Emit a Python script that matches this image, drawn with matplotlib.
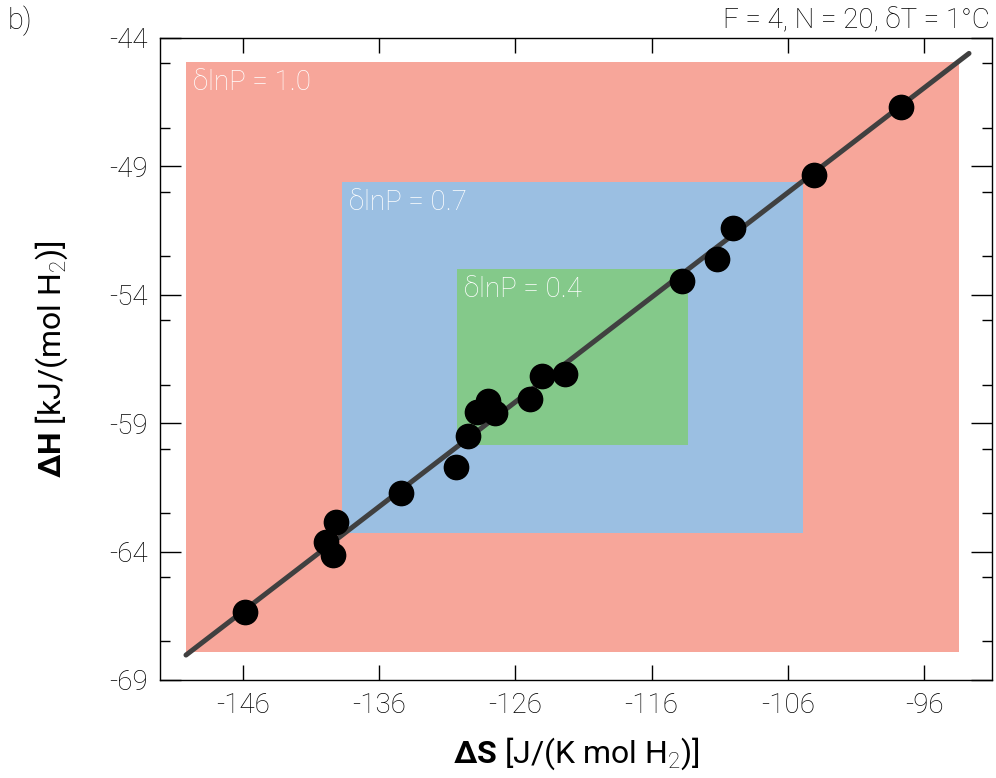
import numpy as np
import matplotlib
matplotlib.use('Agg')
import matplotlib.pyplot as plt
from matplotlib.patches import Rectangle
from matplotlib.ticker import MultipleLocator

plt.rcParams['font.family'] = ['Roboto', 'DejaVu Sans']
plt.rcParams['font.weight'] = 'light'
plt.rcParams['mathtext.fontset'] = 'custom'
plt.rcParams['mathtext.rm'] = 'Roboto:light'
plt.rcParams['mathtext.bf'] = 'Roboto:bold'

# fitted points (dS in J/(K mol H2), dH in kJ/(mol H2))
dS = [-145.83, -139.89, -139.40, -139.15, -134.41, -130.35, -129.47, -128.79,
      -128.00, -127.51, -124.92, -124.04, -122.35, -113.79, -111.20, -110.00,
      -104.08, -97.72]
dH = [-66.37, -63.64, -64.14, -62.84, -61.73, -60.72, -59.52, -58.57,
      -58.13, -58.62, -58.08, -57.17, -57.08, -53.46, -52.60, -51.40,
      -49.36, -46.70]

# compensation line end points
line_S = [-150.16, -92.71]
line_H = [-68.03, -44.61]

# uncertainty boxes
box_labels = ['δlnP = 1.0', 'δlnP = 0.7', 'δlnP = 0.4']
box_S = [(-150.18, -93.43), (-138.71, -104.87), (-130.28, -113.35)]
box_H = [(-67.90, -44.95), (-63.27, -49.61), (-59.85, -53.00)]
box_colors = ['#f7a69a', '#9bbfe2', '#84c98a']

xticks = [-146, -136, -126, -116, -106, -96]
yticks = [-69, -64, -59, -54, -49, -44]

fig = plt.figure(figsize=(9.96, 7.78), dpi=100)
ax = fig.add_axes([0.1606, 0.126, 0.8357, 0.8255])

for lab, (s0, s1), (h0, h1), c in zip(box_labels, box_S, box_H, box_colors):
    ax.add_patch(Rectangle((s0, h0), s1 - s0, h1 - h0, color=c, lw=0, zorder=1))
    ax.annotate(lab, (s0, h1), xytext=(5, -5), textcoords='offset points',
                ha='left', va='top', color='white', fontsize=20, zorder=2)

ax.plot(line_S, line_H, color='#404040', lw=3.6, solid_capstyle='round', zorder=3)
ax.plot(dS, dH, 'o', color='black', ms=17.5, zorder=4)

ax.set_xlim(-152.07, -91.0)
ax.set_ylim(-69, -44)
ax.set_xticks(xticks)
ax.set_yticks(yticks)
ax.set_xticklabels([str(t) for t in xticks])
ax.set_yticklabels([str(t) for t in yticks])
ax.yaxis.set_minor_locator(MultipleLocator(2.5))
ax.tick_params(which='major', direction='in', top=True, right=True,
               length=11, width=1, labelsize=20, pad=9)
ax.tick_params(axis='y', which='major', length=15)
ax.tick_params(axis='y', which='minor', direction='in', right=True, length=7, width=1)
for sp in ax.spines.values():
    sp.set_linewidth(1)

ax.set_xlabel(r'$\mathbf{ΔS}$ [J/(K mol H$_2$)]', fontsize=23)
ax.set_ylabel(r'$\mathbf{ΔH}$ [kJ/(mol H$_2$)]', fontsize=23)
ax.xaxis.set_label_coords(0.5, -0.087)
ax.yaxis.set_label_coords(-0.108, 0.5)

fig.text(0.994, 0.964, 'F = 4, N = 20, δT = 1°C', ha='right', va='baseline', fontsize=20)
fig.text(0.008, 0.962, 'b)', ha='left', va='baseline', fontsize=21)

fig.savefig('out.png', dpi=100)
